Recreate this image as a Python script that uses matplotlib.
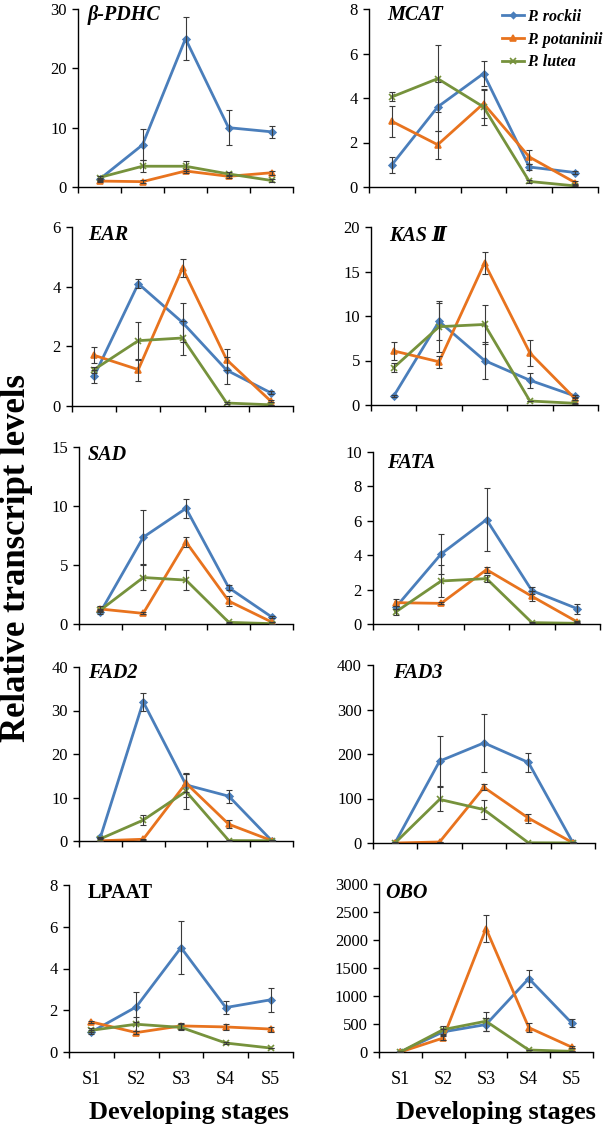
import matplotlib
matplotlib.use("Agg")
import matplotlib.pyplot as plt
from matplotlib.lines import Line2D

plt.rcParams['font.family'] = ['Liberation Serif', 'DejaVu Serif']

# --- data ---
stages = ['S1', 'S2', 'S3', 'S4', 'S5']
genes = ['β-PDHC', 'MCAT', 'EAR', 'KAS Ⅱ', 'SAD', 'FATA', 'FAD2', 'FAD3', 'LPAAT', 'OBO']
species = ['P. rockii', 'P. potaninii', 'P. lutea']

# y axis max and tick step per gene
y_max = [30, 8, 6, 20, 15, 10, 40, 400, 8, 3000]
y_step = [10, 2, 2, 5, 5, 2, 10, 100, 2, 500]

rockii = [
    [1.3, 7.1, 25.0, 10.0, 9.3],
    [1.0, 3.6, 5.1, 0.9, 0.65],
    [1.0, 4.1, 2.8, 1.2, 0.44],
    [1.0, 9.4, 5.0, 2.78, 1.0],
    [1.0, 7.35, 9.8, 3.07, 0.6],
    [0.97, 4.07, 6.07, 1.94, 0.89],
    [0.85, 32.0, 12.9, 10.3, 0.1],
    [1, 184, 225, 181, 1],
    [0.96, 2.16, 5.0, 2.13, 2.5],
    [1, 360, 490, 1312, 520],
]
rockii_err = [
    [0.3, 2.6, 3.6, 3.0, 1.0],
    [0.35, 1.1, 0.57, 0.15, 0.05],
    [0.22, 0.16, 0.65, 0.45, 0.05],
    [0.1, 2.06, 2.1, 0.82, 0.1],
    [0.15, 2.28, 0.8, 0.2, 0.08],
    [0.1, 1.18, 1.83, 0.2, 0.3],
    [0.1, 2.1, 2.7, 1.5, 0.05],
    [0.2, 56, 66, 21, 0.2],
    [0.1, 0.72, 1.28, 0.3, 0.57],
    [0.2, 50, 120, 150, 72],
]
potaninii = [
    [1.0, 0.9, 2.7, 1.8, 2.4],
    [2.95, 1.9, 3.75, 1.35, 0.2],
    [1.7, 1.22, 4.62, 1.55, 0.16],
    [6.08, 4.85, 15.95, 5.85, 0.68],
    [1.27, 0.9, 6.95, 1.94, 0.17],
    [1.24, 1.2, 3.16, 1.61, 0.12],
    [0.05, 0.4, 13.3, 3.85, 0.1],
    [0, 2.3, 125, 56, 0.5],
    [1.44, 0.93, 1.25, 1.2, 1.1],
    [0.5, 250, 2205, 435, 88],
]
potaninii_err = [
    [0.2, 0.2, 0.4, 0.3, 0.3],
    [0.7, 0.62, 0.63, 0.3, 0.05],
    [0.27, 0.37, 0.3, 0.36, 0.03],
    [0.97, 0.68, 1.24, 1.5, 0.1],
    [0.25, 0.08, 0.45, 0.45, 0.03],
    [0.2, 0.06, 0.17, 0.3, 0.03],
    [0.02, 0.1, 2.0, 0.9, 0.02],
    [0, 0.5, 7, 10, 0.1],
    [0.05, 0.06, 0.15, 0.15, 0.12],
    [0.1, 40, 245, 85, 15],
]
lutea = [
    [1.6, 3.5, 3.5, 2.2, 1.1],
    [4.05, 4.87, 3.6, 0.25, 0.05],
    [1.22, 2.19, 2.28, 0.1, 0.04],
    [4.2, 8.8, 9.05, 0.45, 0.19],
    [1.18, 3.94, 3.72, 0.14, 0.03],
    [0.7, 2.5, 2.64, 0.08, 0.04],
    [0.5, 4.8, 11.4, 0.1, 0.05],
    [0.5, 98, 75, 0.5, 0.2],
    [1.04, 1.33, 1.18, 0.43, 0.19],
    [0.8, 400, 550, 36, 12],
]
lutea_err = [
    [0.3, 1.0, 0.8, 0.4, 0.2],
    [0.2, 1.5, 0.8, 0.05, 0.02],
    [0.1, 0.64, 0.58, 0.02, 0.01],
    [0.5, 2.9, 2.15, 0.05, 0.03],
    [0.1, 1.1, 0.88, 0.02, 0.01],
    [0.15, 0.95, 0.2, 0.02, 0.01],
    [0.1, 1.2, 4.1, 0.02, 0.01],
    [0.1, 27, 21, 0.1, 0.05],
    [0.1, 0.33, 0.15, 0.03, 0.02],
    [0.2, 70, 167, 8, 3],
]

# --- layout (pixels: left, right, top, bottom of each plot area) ---
W, H = 605, 1129
boxes = [(78, 293, 9, 187), (369, 598, 9, 187),
         (72, 293, 227, 406), (371, 598, 227, 405),
         (79, 293, 447, 624), (373, 600, 452, 624),
         (79, 293, 667, 841), (373, 595, 665, 843),
         (69, 293, 885, 1052), (379, 593, 884, 1052)]
# gene name offset from top-left corner (pixels)
title_off = [(10, 6), (18, 6), (16, 8), (18, 9), (9, 8),
             (14, 11), (9, 6), (20, 8), (19, 8), (6, 9)]

colors = ['#4A7EBB', '#E8731E', '#76923C']
markers = ['D', '^', 'x']
msizes = [3.5, 4.5, 4.5]

fig = plt.figure(figsize=(W / 100, H / 100), dpi=100)

for i in range(len(genes)):
    l, r, t, b = boxes[i]
    ax = fig.add_axes([l / W, 1 - b / H, (r - l) / W, (b - t) / H])
    x = range(1, 6)
    series = [(rockii[i], rockii_err[i]), (potaninii[i], potaninii_err[i]), (lutea[i], lutea_err[i])]
    for k, (vals, errs) in enumerate(series):
        ax.errorbar(x, vals, yerr=errs, fmt='none', ecolor='#3a3a3a', elinewidth=0.8,
                    capsize=2.2, capthick=0.8, zorder=3)
        ax.plot(x, vals, color=colors[k], lw=2, marker=markers[k], ms=msizes[k],
                mew=1.2, zorder=2, label=species[k])

    ax.set_xlim(0.5, 5.5)
    ax.set_ylim(0, y_max[i])
    ax.set_yticks(range(0, y_max[i] + 1, y_step[i]))
    ax.set_xticks([0.5, 1.5, 2.5, 3.5, 4.5, 5.5])
    ax.set_xticklabels([])
    ax.set_xticks([1, 2, 3, 4, 5], minor=True)
    if i >= 8:
        ax.set_xticklabels(stages, minor=True, fontsize=13)
    ax.tick_params(axis='x', which='minor', length=0, pad=14)
    ax.tick_params(axis='x', which='major', length=4, width=1, direction='out')
    ax.tick_params(axis='y', length=4, width=1, direction='out', labelsize=12, pad=4)
    for s in ['top', 'right']:
        ax.spines[s].set_visible(False)
    for s in ['left', 'bottom']:
        ax.spines[s].set_linewidth(1)

    style = 'normal' if genes[i] == 'LPAAT' else 'italic'
    dx, dy = title_off[i]
    ax.annotate(genes[i], xy=(0, 1), xycoords='axes fraction',
                xytext=(dx * 0.72, -dy * 0.72), textcoords='offset points',
                ha='left', va='center', fontsize=14.5, fontweight='bold', fontstyle=style)

    if i == 1:
        handles = [Line2D([], [], color=colors[k], lw=2, marker=markers[k], ms=msizes[k] - 0.5, mew=1.2)
                   for k in range(3)]
        ax.legend(handles, species, loc='upper left', bbox_to_anchor=((494 - l) / (r - l), 1.045),
                  frameon=False, handlelength=1.4, handletextpad=0.15, labelspacing=0.42,
                  prop={'size': 11.5, 'weight': 'bold', 'style': 'italic'}, borderpad=0)

fig.text(17 / W, 1 - 558 / H, 'Relative transcript levels', rotation=90, ha='center', va='center',
         fontsize=25, fontweight='bold')
fig.text(189 / W, 1 - 1112 / H, 'Developing stages', ha='center', va='center', fontsize=19, fontweight='bold')
fig.text(496 / W, 1 - 1112 / H, 'Developing stages', ha='center', va='center', fontsize=19, fontweight='bold')

fig.savefig('out.png', dpi=100)
